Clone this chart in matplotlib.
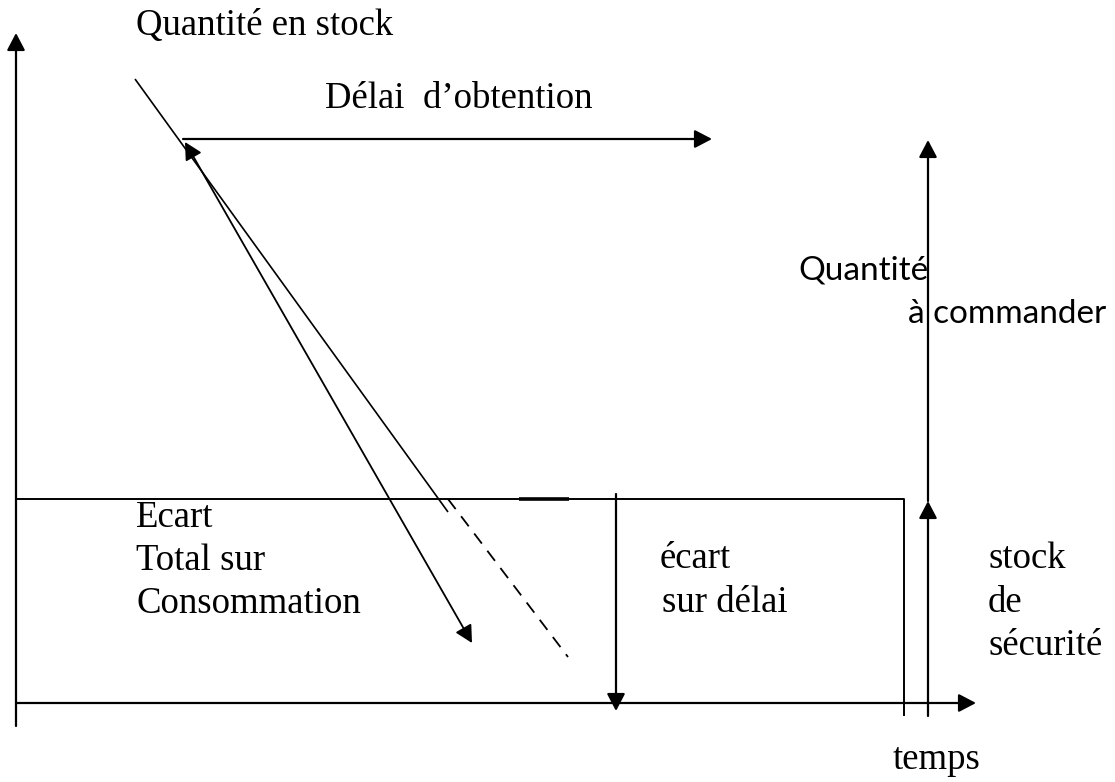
import matplotlib
matplotlib.use("Agg")
import matplotlib.pyplot as plt
from matplotlib.patches import FancyArrowPatch

# ---- diagram data (pixel coordinates of the reference drawing) ----
y_axis = [(16, 726), (16, 33)]            # vertical axis (arrow at end)
x_axis = [(16, 703), (976, 703)]          # time axis (arrow at end)
safety_top = [(16, 499), (904, 499), (904, 716)]   # safety stock level box
bold_seg = [(519, 499), (569, 499)]
stock_line = [(135, 79), (448, 512)]      # consumption line
dashed_line = [(448, 499), (568, 657)]    # extrapolated consumption
total_dev = [(185, 142), (472, 643)]      # double arrow "écart total"
lead_time = [(183, 139), (712, 139)]      # délai d'obtention arrow
delay_dev = [(616, 494), (616, 711)]      # écart sur délai arrow
order_qty_low = [(928, 716), (928, 501)]  # stock de sécurité arrow
order_qty_high = [(928, 501), (928, 140)] # quantité à commander arrow

serif_labels = [
    ("Quantité en stock", 136, 35),
    ("Délai  d\u2019obtention", 325, 108),
    ("Ecart", 136, 527),
    ("Total sur", 136, 570),
    ("Consommation", 136, 613),
    ("écart", 660, 568),
    ("sur délai", 662, 612),
    ("stock", 988, 568),
    ("de", 988, 612),
    ("sécurité", 988, 655),
    ("temps", 893, 769),
]
sans_labels = [
    ("Quantité", 798, 279),
    ("à commander", 908, 323),
]

W, H = 1115, 782
fig = plt.figure(figsize=(W / 100, H / 100), dpi=100)
ax = fig.add_axes([0, 0, 1, 1])
ax.set_xlim(0, W)
ax.set_ylim(H, 0)
ax.axis("off")

LW = 1.6
HEAD = "-|>,head_length=10.5,head_width=5.5"


def line(pts, **kw):
    xs = [p[0] for p in pts]
    ys = [p[1] for p in pts]
    ax.plot(xs, ys, color="black", solid_capstyle="butt", **kw)


def arrow(pts, style=HEAD, lw=LW):
    a = FancyArrowPatch(pts[0], pts[1], arrowstyle=style, mutation_scale=1,
                        shrinkA=0, shrinkB=0, color="black", lw=lw)
    ax.add_patch(a)


arrow(y_axis)
arrow(x_axis)
line(safety_top, lw=1.4)
line(bold_seg, lw=2.6)
line(stock_line, lw=1.2)
line(dashed_line, lw=1.3, linestyle=(0, (7, 5)))
arrow(total_dev, style="<|-|>,head_length=10.5,head_width=5.5", lw=1.3)
arrow(lead_time)
arrow(delay_dev)
arrow(order_qty_low)
arrow(order_qty_high)

for txt, x, y in serif_labels:
    ax.text(x, y, txt, fontsize=26.5, family="Liberation Serif",
            ha="left", va="baseline", color="black")
for txt, x, y in sans_labels:
    ax.text(x, y, txt, fontsize=24, family="Lato",
            ha="left", va="baseline", color="black")

fig.savefig("out.png", dpi=100, facecolor="white")
